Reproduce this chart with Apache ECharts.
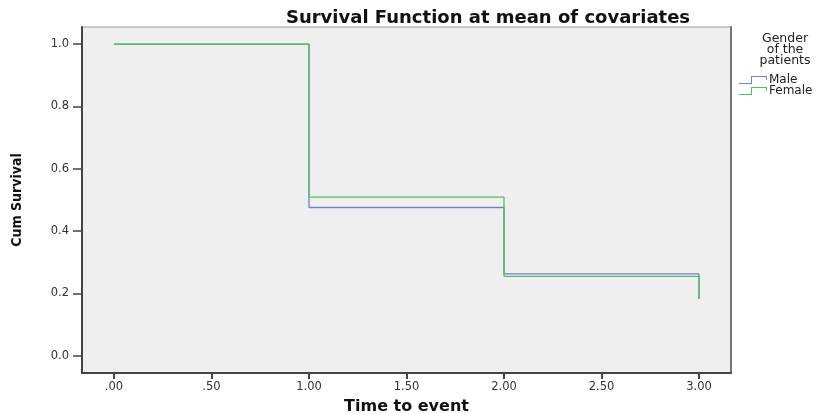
<!DOCTYPE html>
<html><head><meta charset="utf-8">
<script src="https://cdn.jsdelivr.net/npm/echarts@6/dist/echarts.min.js"></script>
<style>html,body{margin:0;padding:0;background:#fff}#c{width:823px;height:414px}</style>
</head><body><div id="c"></div>
<script>
const times = [0, 1, 2, 3];
const maleSurv = [1.0, 0.476, 0.263, 0.183];
const femaleSurv = [1.0, 0.509, 0.255, 0.183];
const seriesNames = ['Male', 'Female'];
const xTicks = [0, 0.5, 1, 1.5, 2, 2.5, 3];
const yTicks = [0, 0.2, 0.4, 0.6, 0.8, 1.0];

const pair = (xs, ys) => xs.map((x, i) => [x, ys[i]]);
const stepIcon = 'path://M0,7 L12,7 L12,0 L28,0 L28,4 L27,4 L27,1 L13,1 L13,8 L0,8 Z';

const chart = echarts.init(document.getElementById('c'));
chart.setOption({
  animation: false,
  backgroundColor: '#fff',
  title: [{
    text: 'Survival Function at mean of covariates',
    left: 483, top: 4, textAlign: 'center',
    textStyle: { fontFamily: 'DejaVu Sans', fontWeight: 'bold', fontSize: 18, color: '#111' }
  }, {
    text: 'Gender\nof the\npatients',
    left: 780, top: 28, textAlign: 'center',
    textStyle: { fontFamily: 'DejaVu Sans', fontWeight: 'normal', fontSize: 12.5, lineHeight: 11, color: '#222' }
  }],
  legend: {
    data: seriesNames.map(n => ({ name: n, icon: stepIcon })),
    orient: 'vertical', left: 734, top: 69, itemWidth: 30, itemHeight: 8, itemGap: -1,
    textStyle: { fontFamily: 'DejaVu Sans', fontSize: 12, lineHeight: 10, color: '#222', padding: [0, 0, 0, -4] }
  },
  grid: {
    left: 82, top: 27, right: 92, bottom: 41,
    outerBoundsMode: 'none', containLabel: false,
    show: true, backgroundColor: '#efefef', borderColor: '#999', borderWidth: 1
  },
  xAxis: {
    type: 'value', min: -0.164, max: 3.164,
    name: 'Time to event', nameLocation: 'middle', nameGap: 26, nameMoveOverlap: false,
    nameTextStyle: { fontFamily: 'DejaVu Sans', fontWeight: 'bold', fontSize: 16, color: '#111' },
    axisLine: { show: true, onZero: false, lineStyle: { color: '#444', width: 2 } },
    axisTick: { show: true, length: 6, customValues: xTicks, lineStyle: { color: '#444', width: 2 } },
    axisLabel: {
      customValues: xTicks, margin: 8, color: '#333', fontFamily: 'DejaVu Sans', fontSize: 11.5,
      formatter: v => { const s = v.toFixed(2); return v < 1 ? s.replace(/^0/, '') : s; }
    },
    splitLine: { show: false }
  },
  yAxis: [{
    type: 'value', min: -0.055, max: 1.055,
    name: 'Cum Survival', nameLocation: 'middle', nameGap: 58,
    nameTextStyle: { fontFamily: "'DejaVu Sans Condensed', 'Liberation Sans', sans-serif", fontWeight: 'bold', fontSize: 14, color: '#111' },
    axisLine: { show: true, onZero: false, lineStyle: { color: '#444', width: 2 } },
    axisTick: { show: true, length: 9, customValues: yTicks, lineStyle: { color: '#444', width: 1.5 } },
    axisLabel: {
      customValues: yTicks, margin: 13, color: '#333', fontFamily: 'DejaVu Sans', fontSize: 11.5,
      formatter: v => v.toFixed(1)
    },
    splitLine: { show: false }
  }, {
    type: 'value', position: 'right', min: -0.055, max: 1.055,
    axisLine: { show: true, onZero: false, lineStyle: { color: '#777', width: 2 } },
    axisTick: { show: false }, axisLabel: { show: false }, splitLine: { show: false }
  }],
  series: [{
    name: seriesNames[0], type: 'line', step: 'end', showSymbol: false,
    data: pair(times, maleSurv), color: '#6f82c9',
    lineStyle: { width: 1.3, color: '#6f82c9' }
  }, {
    name: seriesNames[1], type: 'line', step: 'end', showSymbol: false,
    data: pair(times, femaleSurv), color: '#4cc35d',
    lineStyle: { width: 1.3, color: '#4cc35d' }
  }]
});
</script></body></html>
